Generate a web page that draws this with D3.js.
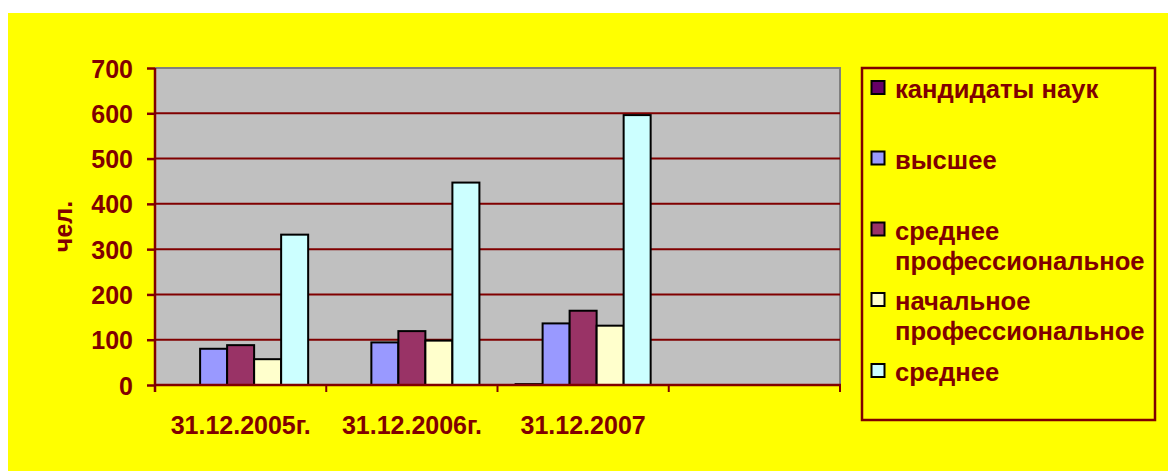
<!DOCTYPE html>
<html>
<head>
<meta charset="utf-8">
<script src="https://cdn.jsdelivr.net/npm/d3@7"></script>
<style>
  html, body { margin: 0; padding: 0; background: #ffffff; }
  svg { display: block; }
  text { font-family: "Liberation Sans", Arial, sans-serif; font-weight: bold; fill: #800000; }
</style>
</head>
<body>
<svg id="chart" width="1168" height="471"></svg>
<script>
// Categories (the fourth slot is left empty on the axis)
const categories = ["31.12.2005г.", "31.12.2006г.", "31.12.2007", ""];
const seriesNames = [
  "кандидаты наук",
  "высшее",
  "среднее профессиональное",
  "начальное профессиональное",
  "среднее"
];
const legendLines = [
  ["кандидаты наук"],
  ["высшее"],
  ["среднее", "профессиональное"],
  ["начальное", "профессиональное"],
  ["среднее"]
];
const seriesColors = ["#660066", "#9999FF", "#993366", "#FFFFCC", "#CCFFFF"];

// Values per series, one per dated category
const kandidaty   = [0, 0, 2];
const vysshee     = [80, 94, 136];
const srednProf   = [88, 119, 164];
const nachProf    = [57, 98, 131];
const srednee     = [332, 447, 596];
const seriesValues = [kandidaty, vysshee, srednProf, nachProf, srednee];

const yTicks = [0, 100, 200, 300, 400, 500, 600, 700];
const yTitle = "чел.";

const svg = d3.select("#chart");

// Yellow chart area
svg.append("rect").attr("x", 8).attr("y", 13).attr("width", 1160).attr("height", 458)
  .attr("fill", "#FFFF00");

const plot = { left: 155, right: 840, top: 68, bottom: 385 };

const x0 = d3.scaleBand().domain(d3.range(categories.length))
  .range([plot.left, plot.right]).paddingInner(0).paddingOuter(0);
const x1 = d3.scaleBand().domain(d3.range(seriesNames.length))
  .range([0, x0.bandwidth()]).paddingInner(0).paddingOuter(0.67);
const y = d3.scaleLinear().domain([0, 700]).range([plot.bottom, plot.top]);

// Plot background
svg.append("rect")
  .attr("x", plot.left).attr("y", plot.top)
  .attr("width", plot.right - plot.left).attr("height", plot.bottom - plot.top)
  .attr("fill", "#C0C0C0");

// Grey frame on top and right
svg.append("path")
  .attr("d", `M${plot.left},${plot.top}H${plot.right}V${plot.bottom}`)
  .attr("fill", "none").attr("stroke", "#808080").attr("stroke-width", 2);

// Gridlines
svg.append("g").selectAll("line")
  .data(yTicks.filter(v => v > 0 && v < 700))
  .join("line")
  .attr("x1", plot.left).attr("x2", plot.right)
  .attr("y1", d => y(d)).attr("y2", d => y(d))
  .attr("stroke", "#800000").attr("stroke-width", 2);

// Bars
const groups = svg.append("g").selectAll("g")
  .data(categories.slice(0, 3).map((c, i) => i))
  .join("g")
  .attr("transform", i => `translate(${x0(i)},0)`);

groups.selectAll("rect")
  .data(i => seriesValues.map((vals, s) => ({ s, v: vals[i] })).filter(d => d.v > 0))
  .join("rect")
  .attr("x", d => x1(d.s))
  .attr("width", x1.bandwidth())
  .attr("y", d => y(d.v))
  .attr("height", d => y(0) - y(d.v))
  .attr("fill", d => seriesColors[d.s])
  .attr("stroke", "#000")
  .attr("stroke-width", 2);

// Y axis
const yAxis = svg.append("g")
  .attr("transform", `translate(${plot.left},0)`)
  .call(d3.axisLeft(y).tickValues(yTicks).tickSize(8).tickPadding(14).tickFormat(d3.format("d")));
yAxis.select(".domain").attr("stroke", "#800000").attr("stroke-width", 2.5)
  .attr("d", `M0,${plot.top}V${plot.bottom + 7}`);
yAxis.selectAll(".tick line").attr("stroke", "#800000").attr("stroke-width", 2.5);
yAxis.selectAll(".tick text")
  .attr("fill", "#800000").attr("font-size", 25).attr("font-weight", "bold")
  .attr("font-family", "Liberation Sans, Arial, sans-serif")
  .attr("dy", "0.36em");

// X axis: line with ticks at category boundaries
const xAxis = svg.append("g").attr("transform", `translate(0,${plot.bottom})`);
xAxis.append("line")
  .attr("x1", plot.left).attr("x2", plot.right + 1)
  .attr("stroke", "#800000").attr("stroke-width", 2.5);
xAxis.selectAll(".bound")
  .data(d3.range(categories.length + 1))
  .join("line")
  .attr("class", "bound")
  .attr("x1", i => plot.left + i * x0.step()).attr("x2", i => plot.left + i * x0.step())
  .attr("y1", 0).attr("y2", 7)
  .attr("stroke", "#800000").attr("stroke-width", 2);
xAxis.selectAll(".cat")
  .data(categories)
  .join("text")
  .attr("class", "cat")
  .attr("x", (d, i) => x0(i) + x0.bandwidth() / 2)
  .attr("y", 49)
  .attr("text-anchor", "middle")
  .attr("font-size", 25)
  .text(d => d);

// Y axis title
svg.append("text")
  .attr("transform", `translate(72,${(plot.top + plot.bottom) / 2}) rotate(-90)`)
  .attr("text-anchor", "middle")
  .attr("font-size", 25)
  .text(yTitle);

// Legend
const legend = svg.append("g");
legend.append("rect")
  .attr("x", 862).attr("y", 68).attr("width", 293).attr("height", 352)
  .attr("fill", "none").attr("stroke", "#800000").attr("stroke-width", 2.5);

const legendBaselines = [98, 168.5, 239.5, 310, 381];
const items = legend.selectAll(".item")
  .data(seriesNames.map((n, i) => i))
  .join("g").attr("class", "item");
items.append("rect")
  .attr("x", 871.5).attr("y", i => legendBaselines[i] - 17)
  .attr("width", 13).attr("height", 13)
  .attr("fill", i => seriesColors[i])
  .attr("stroke", "#000").attr("stroke-width", 2);
items.each(function (i) {
  const t = d3.select(this).append("text")
    .attr("x", 895).attr("y", legendBaselines[i])
    .attr("font-size", 25.6);
  legendLines[i].forEach((line, k) => {
    t.append("tspan").attr("x", 895).attr("dy", k === 0 ? 0 : 30).text(line);
  });
});
</script>
</body>
</html>
